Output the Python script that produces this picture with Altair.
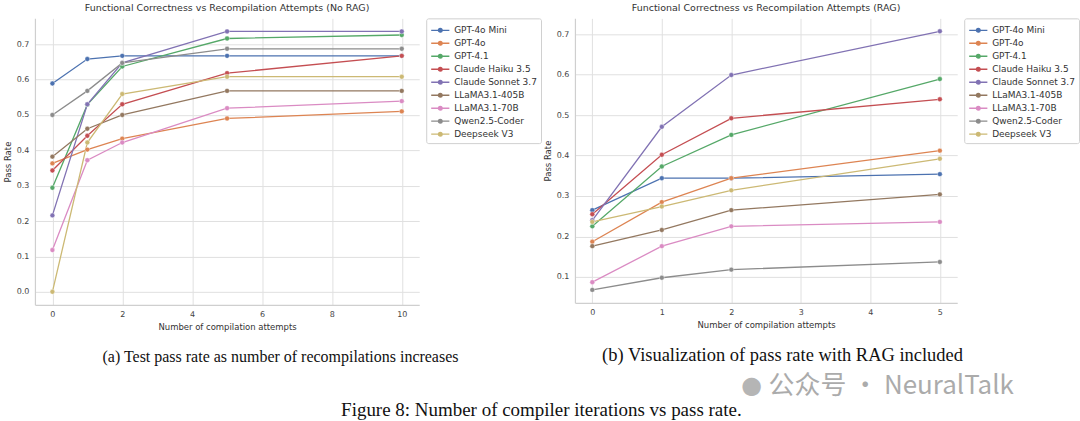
import altair as alt
import pandas as pd

models = ["GPT-4o Mini", "GPT-4o", "GPT-4.1", "Claude Haiku 3.5", "Claude Sonnet 3.7",
          "LLaMA3.1-405B", "LLaMA3.1-70B", "Qwen2.5-Coder", "Deepseek V3"]
colors = ["#4C72B0", "#DD8452", "#55A868", "#C44E52", "#8172B3",
          "#937860", "#DA8BC3", "#8C8C8C", "#CCB974"]

attempts_norag = [0, 1, 2, 5, 10]
gpt4o_mini_norag = [0.589, 0.658, 0.667, 0.667, 0.667]
gpt4o_norag = [0.363, 0.402, 0.433, 0.490, 0.510]
gpt41_norag = [0.294, 0.529, 0.637, 0.716, 0.726]
haiku_norag = [0.343, 0.441, 0.530, 0.618, 0.667]
sonnet_norag = [0.216, 0.530, 0.647, 0.736, 0.736]
llama405_norag = [0.382, 0.461, 0.500, 0.568, 0.568]
llama70_norag = [0.118, 0.372, 0.422, 0.519, 0.539]
qwen_norag = [0.500, 0.568, 0.647, 0.687, 0.687]
deepseek_norag = [0.000, 0.422, 0.559, 0.608, 0.608]

attempts_rag = [0, 1, 2, 5]
gpt4o_mini_rag = [0.265, 0.344, 0.344, 0.354]
gpt4o_rag = [0.187, 0.285, 0.344, 0.412]
gpt41_rag = [0.225, 0.373, 0.451, 0.589]
haiku_rag = [0.255, 0.402, 0.492, 0.539]
sonnet_rag = [0.240, 0.471, 0.599, 0.707]
llama405_rag = [0.176, 0.216, 0.265, 0.304]
llama70_rag = [0.087, 0.176, 0.225, 0.236]
qwen_rag = [0.068, 0.098, 0.118, 0.137]
deepseek_rag = [0.236, 0.274, 0.314, 0.392]

norag_series = [gpt4o_mini_norag, gpt4o_norag, gpt41_norag, haiku_norag, sonnet_norag,
                llama405_norag, llama70_norag, qwen_norag, deepseek_norag]
rag_series = [gpt4o_mini_rag, gpt4o_rag, gpt41_rag, haiku_rag, sonnet_rag,
              llama405_rag, llama70_rag, qwen_rag, deepseek_rag]


def to_df(xs, series):
    rows = []
    for i, (m, vals) in enumerate(zip(models, series)):
        for x, v in zip(xs, vals):
            rows.append({"model": m, "order": i, "attempts": x, "rate": v})
    return pd.DataFrame(rows)


df_norag = to_df(attempts_norag, norag_series)
df_rag = to_df(attempts_rag, rag_series)

SANS = "DejaVu Sans"
SERIF = "Liberation Serif"
LEG_SYMBOL = "M-1,0L1.6,0M0.04,0A0.26,0.26,0,1,1,0.56,0A0.26,0.26,0,1,1,0.04,0Z"


def panel(df, xdomain, xticks, ydomain, yticks, title, caption, cap_x, cap_size, w, h, extra=None):
    color = alt.Color("model:N", sort=models,
                      scale=alt.Scale(domain=models, range=colors),
                      legend=alt.Legend(title=None, symbolType=LEG_SYMBOL, symbolSize=196,
                                        symbolStrokeWidth=1.4, labelFont=SANS, labelFontSize=9,
                                        labelColor="#333333", rowPadding=-1.2, labelOffset=8,
                                        strokeColor="#d0d0d0", fillColor="white", padding=4,
                                        cornerRadius=2, offset=7))
    x = alt.X("attempts:Q", scale=alt.Scale(domain=xdomain, nice=False, zero=False),
              axis=alt.Axis(values=xticks, format="d", title="Number of compilation attempts"))
    y = alt.Y("rate:Q", scale=alt.Scale(domain=ydomain, nice=False, zero=False),
              axis=alt.Axis(values=yticks, format=".1f", title="Pass Rate"))
    base = alt.Chart(df)
    line = base.mark_line(strokeWidth=1.3).encode(x=x, y=y, color=color, order="attempts:Q",
                                                  detail="model:N")
    pts = base.mark_point(filled=True, size=24, opacity=1, stroke="white",
                          strokeWidth=0.4).encode(x=x, y=y, color=color)
    cap = alt.Chart(pd.DataFrame({"t": [caption]})).mark_text(
        font=SERIF, fontSize=cap_size, color="#111111", align="center", baseline="middle"
    ).encode(text="t:N", x=alt.value(cap_x), y=alt.value(h + 52))
    layers = [line, pts, cap]
    if extra is not None:
        layers.extend(extra)
    return alt.layer(*layers).properties(
        width=w, height=h,
        title=alt.TitleParams(title, font=SANS, fontSize=9.5, fontWeight="normal",
                              color="#333333", offset=5)
    )


watermark = alt.Chart(pd.DataFrame({"t": ["公众号 · NeuralTalk"]})).mark_text(
    font="Noto Sans CJK SC", fontSize=26, color="#ababab", align="left", baseline="middle"
).encode(text="t:N", x=alt.value(194), y=alt.value(368))
wm_icon = alt.Chart(pd.DataFrame({"t": ["●"]})).mark_text(
    font="DejaVu Sans", fontSize=24, color="#b5b5b5", align="center", baseline="middle"
).encode(text="t:N", x=alt.value(177), y=alt.value(368))

left = panel(df_norag, [-0.5, 10.5], [0, 2, 4, 6, 8, 10], [-0.0368, 0.773],
             [0.0, 0.1, 0.2, 0.3, 0.4, 0.5, 0.6, 0.7],
             "Functional Correctness vs Recompilation Attempts (No RAG)",
             "(a) Test pass rate as number of recompilations increases", 246, 16, 385, 287)
right = panel(df_rag, [-0.25, 5.25], [0, 1, 2, 3, 4, 5], [0.036, 0.739],
              [0.1, 0.2, 0.3, 0.4, 0.5, 0.6, 0.7],
              "Functional Correctness vs Recompilation Attempts (RAG)",
              "(b) Visualization of pass rate with RAG included", 208, 18.5, 383, 285,
              extra=[wm_icon, watermark])

chart = alt.hconcat(left, right, spacing=1).resolve_scale(color="independent").properties(
    padding={"left": 3, "top": 3, "right": 0, "bottom": 2},
    title=alt.TitleParams("Figure 8: Number of compiler iterations vs pass rate.",
                          orient="bottom", font=SERIF, fontSize=19, fontWeight="normal",
                          color="#111111", anchor="middle", offset=2)
).configure_view(stroke=None).configure_axis(
    labelFont=SANS, labelFontSize=8, labelColor="#444444", titleFont=SANS, titleFontSize=8.5,
    titleColor="#333333", titleFontWeight="normal", gridColor="#e0e0e0", gridWidth=1,
    domainColor="#cfcfcf", domainWidth=1.2, ticks=False, labelPadding=6, titlePadding=4
).configure_axisX(domain=True).configure_axisY(domain=True)

chart.save("out.html", embed_options={"renderer": "svg", "actions": False})
